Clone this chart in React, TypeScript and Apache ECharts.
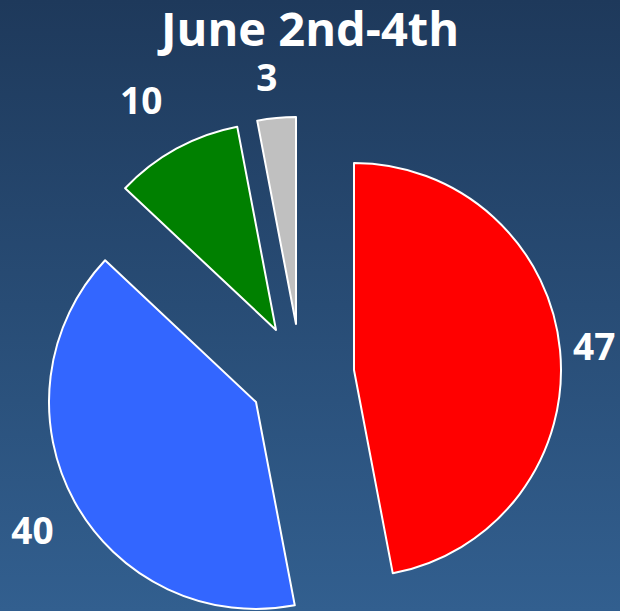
import { useEffect, useRef } from 'react';
import * as echarts from 'echarts';

// ---- data ----
const categories = ['Slice 1', 'Slice 2', 'Slice 3', 'Slice 4'];
const values = [47, 40, 10, 3];
const colors = ['#ff0000', '#3366ff', '#008000', '#c0c0c0'];
const titleText = 'June 2nd-4th';

// ---- layout (exploded slice centres, label tuning) ----
const sliceCenters: [number, number][] = [
  [354, 370],
  [256, 402],
  [276, 330],
  [296, 324],
];
const labelLens = [13, 24, 56, 43];
const labelShift: [number, number][] = [
  [0, -4],
  [0, 16],
  [13, 0],
  [5, 1],
];

export default function App() {
  const ref = useRef<HTMLDivElement>(null);
  useEffect(() => {
    if (!ref.current) return;
    const chart = echarts.init(ref.current, undefined, { renderer: 'svg' });
    chart.setOption({
      animation: false,
      backgroundColor: 'transparent',
      title: {
        text: titleText,
        left: 'center',
        top: 4,
        padding: 0,
        textStyle: {
          color: '#ffffff',
          fontSize: 47,
          fontWeight: 'bold',
          fontFamily: 'Open Sans',
        },
      },
      series: values.map((_, k) => ({
        type: 'pie',
        center: sliceCenters[k],
        radius: 207,
        startAngle: 90,
        clockwise: true,
        avoidLabelOverlap: false,
        silent: true,
        emphasis: { disabled: true },
        labelLine: { show: false, length: labelLens[k], length2: 0 },
        labelLayout: { dx: labelShift[k][0], dy: labelShift[k][1] },
        label: {
          show: false,
          position: 'outside',
          distanceToLabelLine: 0,
          color: '#ffffff',
          fontSize: 37,
          lineHeight: 30,
          fontWeight: 'bold',
          fontFamily: 'Open Sans',
          formatter: '{c}',
        },
        data: categories.map((name, i) => ({
          name,
          value: values[i],
          itemStyle:
            i === k
              ? { color: colors[i], borderColor: '#ffffff', borderWidth: 2 }
              : { color: 'rgba(0,0,0,0)', borderWidth: 0 },
          label: { show: i === k },
        })),
      })),
    });
    return () => chart.dispose();
  }, []);
  return (
    <div
      ref={ref}
      style={{
        position: 'fixed',
        left: 0,
        top: 0,
        width: 620,
        height: 611,
        background: 'linear-gradient(to bottom, #1e395b, #325f8f)',
      }}
    />
  );
}
